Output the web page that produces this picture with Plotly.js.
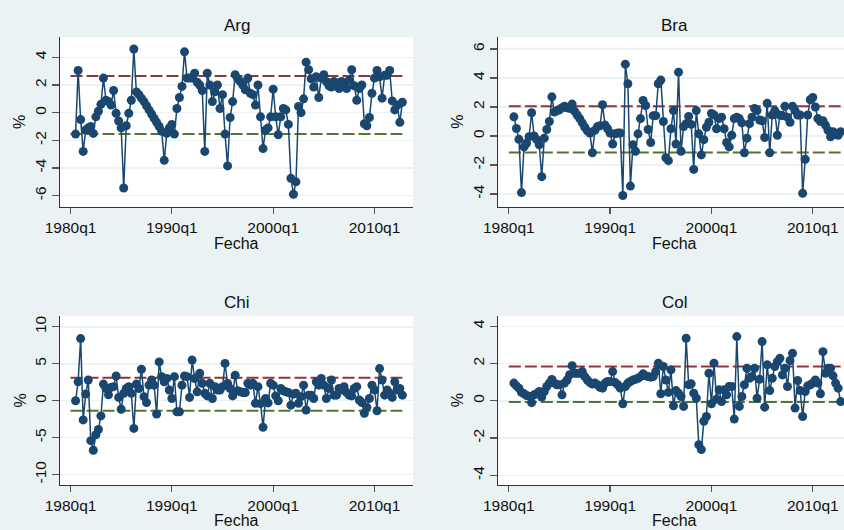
<!DOCTYPE html>
<html>
<head>
<meta charset="utf-8">
<script src="https://cdn.plot.ly/plotly-3.0.1.min.js"></script>
<style>
html,body{margin:0;padding:0;overflow:hidden;background:#EAF2F3;width:844px;height:530px;}
#chart{width:880px;height:530px;}
</style>
</head>
<body>
<div id="chart"></div>
<script>
// ---- data (quarterly, 1980q3 .. 2012q4) ----
const startYear = 1980, startQuarter = 3;
const panels = ['Arg', 'Bra', 'Chi', 'Col'];
const tickLabels = ['1980q1', '1990q1', '2000q1', '2010q1'];

const argVals = [-1.55, 3.05, -0.5, -2.8, -1.25, -1.1, -1.0, -1.5, -0.3, 0.1,
  0.6, 2.5, 0.9, 0.8, 0.55, 1.6, -0.05, -0.6, -1.1, -5.45,
  -0.95, -0.05, 0.9, 4.6, 1.5, 1.3, 1.05, 0.8, 0.5, 0.2,
  -0.1, -0.4, -0.7, -1.0, -1.35, -3.45, -1.5, -1.1, -0.85, -1.55,
  0.3, 1.1, 1.9, 4.4, 2.5, 2.5, 2.5, 2.85, 2.2, 2.0,
  1.6, -2.8, 2.85, 2.0, 0.8, 1.5, 2.0, 0.3, 1.3, -1.55,
  -3.85, -0.35, 0.8, 2.75, 2.45, 2.25, 2.0, 1.65, 2.5, 1.4,
  1.3, 0.55, 2.0, -0.3, -2.6, -1.25, -1.1, -0.3, 1.7, -0.3,
  -1.6, -0.3, 0.3, 0.2, -0.85, -4.75, -5.9, -5.0, 0.45, 0.0,
  1.0, 3.65, 3.1, 2.45, 1.85, 2.6, 1.1, 2.5, 2.75, 2.25,
  1.95, 1.85, 2.25, 2.1, 1.75, 2.25, 2.05, 1.75, 2.35, 3.1,
  1.95, 0.9, 1.75, 2.0, -0.8, -0.95, -0.35, 1.4, 2.5, 3.05,
  2.6, 1.05, 2.7, 2.7, 3.05, 0.85, 0.2, 0.55, -0.7, 0.75];

const braVals = [1.32, 0.52, -0.23, -3.9, -0.75, -0.5, -0.05, 1.6, 0.0, -0.25,
  -0.6, -2.8, -0.15, 0.45, 1.0, 2.7, 1.65, 1.75, 1.8, 1.95,
  2.05, 1.95, 1.9, 2.2, 1.7, 1.45, 1.2, 0.9, 0.6, 0.35,
  0.2, -1.15, 0.4, 0.65, 0.7, 2.15, 0.75, 0.5, 0.2, -0.55,
  0.15, 0.2, 0.2, -4.1, 4.95, 3.6, -3.45, -0.6, -1.05, 0.15,
  1.2, 2.45, 2.1, 0.45, -0.45, 1.4, 1.4, 3.6, 3.85, 1.0,
  -1.5, -1.7, 0.5, 1.75, -0.55, 4.4, -1.05, 0.65, 0.85, 1.35,
  0.8, -2.3, 1.75, 0.15, -1.3, -0.25, 0.6, 0.95, 1.55, 1.45,
  0.5, 1.2, 1.3, 0.5, -0.45, -0.75, 0.05, 1.2, 1.3, 1.2,
  0.9, -1.15, -0.15, 0.85, 1.3, 1.9, 1.75, 1.1, 1.05, -0.1,
  2.25, -1.15, 1.45, 1.75, 0.05, 1.45, 1.4, 2.05, 1.3, 0.95,
  2.05, 1.75, 1.45, 1.45, -3.95, -1.6, 1.45, 2.5, 2.65, 2.0,
  1.2, 1.0, 1.05, 0.75, 0.4, -0.05, 0.3, 0.1, 0.05, 0.3];

const chiVals = [0.0, 2.55, 8.4, -2.6, 0.9, 2.8, -5.4, -6.7, -4.6, -3.9,
  -2.05, 2.25, 1.65, 0.8, 1.8, 1.9, 3.35, 0.45, -1.15, 1.0,
  1.65, 1.9, 1.0, -3.75, 2.25, 1.65, 4.25, 0.55, -0.25, 2.1,
  2.8, 2.1, -1.8, 5.25, 3.25, 2.55, 3.0, 1.45, 0.3, 3.25,
  -1.5, -1.5, 2.1, 3.35, 3.25, 0.45, 5.5, 3.0, 1.2, 3.7,
  2.35, 1.0, 0.65, 2.35, 0.3, 1.9, 1.45, 1.45, 1.9, 5.05,
  2.35, 1.65, 0.65, 3.45, 1.35, 1.2, 1.1, 1.1, 2.35, 2.1,
  2.35, -0.35, 1.9, -0.4, -3.6, 0.3, -0.3, 2.35, 2.1, 0.65,
  0.0, 1.65, 1.35, 1.2, 1.1, -0.6, 0.9, 1.0, -0.35, 0.55,
  2.1, -1.25, 0.75, 0.75, 0.3, 2.55, 2.1, 3.0, 2.1, 0.3,
  1.65, 2.8, 0.75, 0.75, 1.65, 1.45, 1.9, 1.1, 0.75, 0.65,
  1.65, 1.9, 0.1, -0.25, -1.7, -0.9, 0.3, 2.1, 1.45, -1.35,
  4.35, 2.8, 0.75, 1.45, 1.0, 0.45, 2.55, 1.45, 1.65, 0.75];

const colVals = [0.95, 0.8, 0.68, 0.45, 0.38, 0.28, 0.25, -0.1, 0.32, 0.38,
  0.5, 0.2, 0.5, 0.77, 0.95, 1.15, 0.95, 0.86, 0.86, 0.32,
  0.95, 1.12, 1.4, 1.88, 1.48, 1.48, 1.48, 1.57, 1.3, 1.12,
  0.98, 0.9, 0.95, 0.86, 0.73, 0.68, 0.95, 1.04, 1.04, 1.57,
  0.98, 0.86, 0.68, -0.16, 0.77, 0.95, 1.04, 1.12, 1.16, 1.21,
  1.3, 1.45, 1.34, 1.3, 1.27, 1.3, 1.57, 2.02, 0.38, 1.84,
  1.12, 0.45, 1.66, -0.27, 0.55, 0.41, 0.23, -0.3, 3.36, 0.86,
  0.91, 0.41, 0.14, -2.36, -2.62, -1.1, -0.84, 1.48, -0.16, 2.02,
  0.09, 0.59, -0.04, 0.59, 0.32, 0.77, 0.77, -0.98, 3.45, -0.3,
  0.23, 0.86, 1.75, 1.21, 1.3, 1.75, 0.14, 1.16, 3.18, -0.34,
  1.93, 0.55, 1.21, 1.84, 2.1, 2.28, 1.39, 1.75, 0.77, 2.16,
  2.55, -0.39, 1.09, 0.55, -0.84, 0.5, 0.8, 0.86, 0.95, 1.12,
  0.95, 0.38, 2.64, 1.48, 1.75, 1.75, 1.34, 0.95, 0.68, -0.04];

// upper (red) and lower (green) reference bands per panel
const upperLines = [2.65, 2.05, 3.1, 1.84];
const lowerLines = [-1.54, -1.14, -1.35, -0.07];
const yTicks = [[-6, -4, -2, 0, 2, 4], [-4, -2, 0, 2, 4, 6], [-10, -5, 0, 5, 10], [-4, -2, 0, 2, 4]];
const bandStart = '1980q1', bandEnd = '2012q4';

// ---- helpers ----
function qIndex(lbl) { const p = lbl.split('q'); return (parseInt(p[0]) - 1980) * 4 + parseInt(p[1]) - 1; }
function quarterLabels(n) {
  const out = []; let y = startYear, q = startQuarter;
  for (let k = 0; k < n; k++) { out.push(y + 'q' + q); q++; if (q > 4) { q = 1; y++; } }
  return out;
}
const seriesList = [argVals, braVals, chiVals, colVals];

const W = 880, H = 530;
const px = v => v / W, py = v => 1 - v / H;
const xDom = [[px(60), px(413)], [px(498.3), px(851.3)], [px(60), px(413)], [px(498.3), px(851.3)]];
const yDom = [[py(206.7), py(37.3)], [py(206.7), py(37.3)], [py(485), py(315.7)], [py(485), py(315.7)]];
const yRanges = [[-6.8, 5.45], [-4.87, 6.8], [-11.4, 11.5], [-4.52, 4.57]];
const xRange = [-4.15, 135.2];

const NAVY = '#1a476f', MAROON = '#90353b', GREEN = '#55752f', BG = '#EAF2F3';
const FONT = 'Liberation Sans, Arial, sans-serif';

const traces = [];
const layout = {
  width: W, height: H, margin: {l: 0, r: 0, t: 0, b: 0},
  paper_bgcolor: BG, plot_bgcolor: '#ffffff', showlegend: false,
  font: {family: FONT, size: 15.5, color: '#111'},
  annotations: []
};

panels.forEach((name, p) => {
  const sfx = p === 0 ? '' : String(p + 1);
  const xa = 'x' + sfx, ya = 'y' + sfx;
  const labels = quarterLabels(seriesList[p].length);
  const xs = labels.map(qIndex);
  const bx = [qIndex(bandStart), qIndex(bandEnd)];
  traces.push({x: bx, y: [upperLines[p], upperLines[p]], xaxis: xa, yaxis: ya, mode: 'lines',
    line: {color: MAROON, width: 2, dash: '12px,4px'}, hoverinfo: 'skip'});
  traces.push({x: bx, y: [lowerLines[p], lowerLines[p]], xaxis: xa, yaxis: ya, mode: 'lines',
    line: {color: GREEN, width: 2, dash: '12px,4px'}, hoverinfo: 'skip'});
  traces.push({x: xs, y: seriesList[p], text: labels, xaxis: xa, yaxis: ya, mode: 'lines+markers',
    line: {color: NAVY, width: 1.5}, marker: {color: NAVY, size: 9}, name: name});

  layout['xaxis' + sfx] = {
    domain: xDom[p], anchor: ya, range: xRange, showgrid: false, zeroline: false,
    tickmode: 'array', tickvals: tickLabels.map(qIndex), ticktext: tickLabels,
    ticks: 'outside', ticklen: 6, tickcolor: '#555', tickwidth: 1.3,
    showline: true, linecolor: '#333', linewidth: 1.3,
    tickfont: {family: FONT, size: 15.5, color: '#111'}, fixedrange: true
  };
  layout['yaxis' + sfx] = {
    domain: yDom[p], anchor: xa, range: yRanges[p], showgrid: true, gridcolor: BG, gridwidth: 1.5,
    zeroline: false, tickmode: 'array', tickvals: yTicks[p], ticktext: yTicks[p].map(String),
    ticks: 'outside', ticklen: 7, tickcolor: '#555', tickwidth: 1.3, tickangle: -90,
    showline: true, linecolor: '#333', linewidth: 1.3,
    tickfont: {family: FONT, size: 15.5, color: '#111'}, fixedrange: true
  };
  const cx = (xDom[p][0] + xDom[p][1]) / 2;
  const topPx = p < 2 ? 26 : 302.3;
  const fechaPx = p < 2 ? 243.5 : 520;
  const midPx = p < 2 ? 122 : 400.5;
  const pctX = p % 2 === 0 ? 20 : 457.7;
  layout.annotations.push({text: name, xref: 'paper', yref: 'paper', x: cx, y: py(topPx),
    xanchor: 'center', yanchor: 'middle', showarrow: false, font: {family: FONT, size: 17, color: '#111'}});
  layout.annotations.push({text: 'Fecha', xref: 'paper', yref: 'paper', x: cx, y: py(fechaPx),
    xanchor: 'center', yanchor: 'middle', showarrow: false, font: {family: FONT, size: 16, color: '#111'}});
  layout.annotations.push({text: '%', xref: 'paper', yref: 'paper', x: px(pctX), y: py(midPx),
    xanchor: 'center', yanchor: 'middle', showarrow: false, textangle: -90,
    font: {family: FONT, size: 16, color: '#111'}});
});

Plotly.newPlot('chart', traces, layout, {staticPlot: true, displayModeBar: false});
</script>
</body>
</html>
